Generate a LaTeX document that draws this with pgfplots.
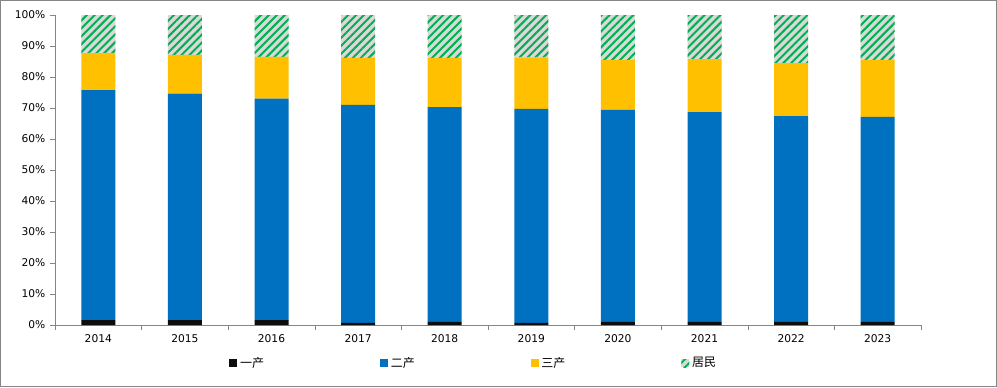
\documentclass[border=0pt]{standalone}
\usepackage{pgfplots}
\usepackage{pgfplotstable}
\pgfplotsset{compat=1.18}
\usetikzlibrary{patterns.meta}
\usepackage{fontspec}
\setmainfont{DejaVu Sans}
\newfontfamily\cjk{Noto Sans CJK SC}
\definecolor{c1}{HTML}{0D0D0D}
\definecolor{c2}{HTML}{0070C0}
\definecolor{c3}{HTML}{FFC000}
\definecolor{c4}{HTML}{00B050}
\definecolor{c4bg}{HTML}{D9D9D9}
\definecolor{axgray}{HTML}{868686}
\pgfplotstableread{
x a b c d
0 1.6 74.2 11.9 12.3
1 1.6 73.0 12.5 12.9
2 1.6 71.4 13.5 13.5
3 0.7 70.3 15.2 13.8
4 1.0 69.3 15.9 13.8
5 0.7 69.0 16.6 13.7
6 1.0 68.4 16.1 14.5
7 1.0 67.7 17.1 14.2
8 1.0 66.4 17.1 15.5
9 1.0 66.1 18.4 14.5
}\data
\begin{document}
\begin{tikzpicture}
\draw[axgray, line width=0.75pt] (0.375pt,0.375pt) rectangle (747.375pt,289.875pt);
\begin{axis}[
  at={(41.25pt,46.5pt)}, anchor=south west,
  scale only axis, width=649.5pt, height=232.5pt,
  ybar stacked, bar width=25.5pt,
  xmin=-0.5, xmax=9.5, ymin=0, ymax=100,
  enlargelimits=false,
  xtick={0,...,9},
  xticklabels={2014,2015,2016,2017,2018,2019,2020,2021,2022,2023},
  minor xtick={-0.5,0.5,...,9.5},
  ytick={0,10,...,100},
  yticklabel={\pgfmathprintnumber{\tick}\%},
  /pgf/number format/assume math mode=true,
  axis x line*=bottom, axis y line*=left,
  axis line style={axgray, -},
  tick style={axgray},
  major x tick style={draw=none},
  tick align=outside,
  major tick length=3.75pt, minor tick length=3.75pt,
  ticklabel style={font=\fontsize{8}{9}\selectfont, text=black},
  legend style={at={(0.484,-0.123)}, anchor=center, draw=none, fill=none,
    legend columns=4, font=\cjk\fontsize{9}{10}\selectfont,
    /tikz/every even column/.append style={column sep=85pt}},
  legend image code/.code={\draw[#1,draw=none] (0pt,-3pt) rectangle (6pt,3pt);},
]
\addplot[fill=c1, draw=none] table[x=x,y=a]{\data};
\addplot[fill=c2, draw=none] table[x=x,y=b]{\data};
\addplot[fill=c3, draw=none] table[x=x,y=c]{\data};
\addplot[fill=c4bg, draw=none, postaction={pattern={Lines[angle=45,distance=4.2pt,line width=1.5pt]}, pattern color=c4}] table[x=x,y=d]{\data};
\legend{一产,二产,三产,居民}
\end{axis}
\end{tikzpicture}
\end{document}
